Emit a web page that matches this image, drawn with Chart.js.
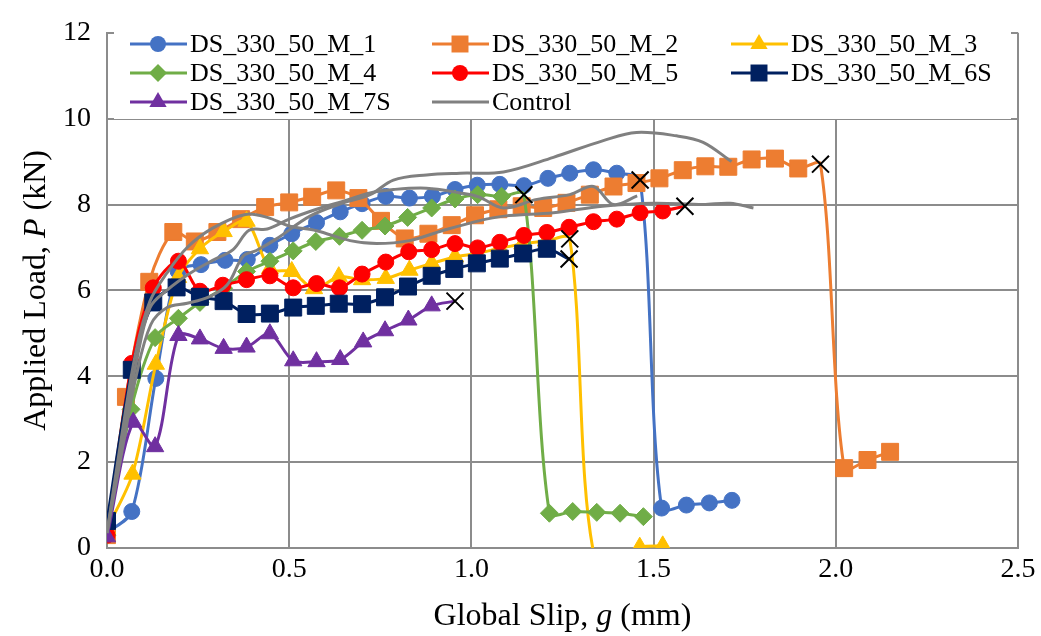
<!DOCTYPE html>
<html lang="en">
<head>
<meta charset="UTF-8">
<title>Applied Load vs Global Slip</title>
<script src="https://cdn.jsdelivr.net/npm/chart.js"></script>
<style>
  html, body { margin: 0; padding: 0; background: #fff; }
</style>
</head>
<body>
<canvas id="slipChart" width="1041" height="636"></canvas>
<script>
// values: slip g (mm), load P (kN)
const slipM1 = [0, 0.068, 0.134, 0.195, 0.258, 0.324, 0.385, 0.447, 0.507, 0.575, 0.64, 0.70, 0.765, 0.83, 0.893, 0.955, 1.016, 1.078, 1.144, 1.21, 1.27, 1.335, 1.399, 1.463, 1.522, 1.59, 1.653, 1.715];
const loadM1 = [0.35, 0.85, 3.95, 6.45, 6.6, 6.7, 6.72, 7.05, 7.32, 7.58, 7.83, 8.02, 8.19, 8.15, 8.19, 8.35, 8.45, 8.47, 8.44, 8.61, 8.73, 8.81, 8.73, 8.57, 0.93, 1.0, 1.05, 1.11];

const slipM2 = [0, 0.052, 0.116, 0.182, 0.241, 0.303, 0.368, 0.434, 0.50, 0.563, 0.629, 0.69, 0.752, 0.817, 0.882, 0.946, 1.01, 1.074, 1.138, 1.197, 1.261, 1.325, 1.39, 1.453, 1.516, 1.58, 1.642, 1.705, 1.769, 1.833, 1.897, 1.958, 2.023, 2.087, 2.149];
const loadM2 = [0.3, 3.52, 6.2, 7.36, 7.14, 7.36, 7.66, 7.94, 8.05, 8.18, 8.33, 8.15, 7.62, 7.21, 7.32, 7.52, 7.75, 7.89, 7.96, 7.92, 8.04, 8.23, 8.42, 8.5, 8.61, 8.8, 8.89, 8.88, 9.05, 9.07, 8.84, 8.94, 1.86, 2.05, 2.24];

const slipM3 = [0, 0.07, 0.134, 0.195, 0.255, 0.32, 0.383, 0.447, 0.507, 0.568, 0.636, 0.70, 0.765, 0.83, 0.891, 0.955, 1.015, 1.078, 1.14, 1.205, 1.27, 1.34, 1.462, 1.525];
const loadM3 = [0.45, 1.72, 4.28, 6.3, 6.97, 7.37, 7.61, 6.5, 6.44, 6.04, 6.32, 6.25, 6.28, 6.47, 6.63, 6.78, 6.86, 6.98, 7.08, 7.15, 7.2, -0.3, 0.02, 0.05];

const slipM4 = [0, 0.066, 0.132, 0.196, 0.255, 0.32, 0.383, 0.447, 0.511, 0.573, 0.638, 0.70, 0.763, 0.825, 0.891, 0.955, 1.017, 1.083, 1.144, 1.214, 1.278, 1.344, 1.408, 1.472];
const loadM4 = [0.3, 3.23, 4.9, 5.35, 5.72, 6.05, 6.44, 6.68, 6.92, 7.14, 7.26, 7.4, 7.5, 7.7, 7.92, 8.13, 8.23, 8.19, 8.23, 0.81, 0.85, 0.83, 0.81, 0.73];

const slipM5 = [0, 0.068, 0.127, 0.196, 0.255, 0.318, 0.383, 0.447, 0.511, 0.575, 0.638, 0.70, 0.765, 0.828, 0.891, 0.955, 1.017, 1.078, 1.144, 1.207, 1.268, 1.335, 1.399, 1.463, 1.525, 1.586];
const loadM5 = [0.3, 4.3, 6.06, 6.68, 5.98, 6.12, 6.25, 6.34, 6.06, 6.16, 6.06, 6.38, 6.66, 6.9, 6.95, 7.09, 6.99, 7.12, 7.28, 7.35, 7.47, 7.6, 7.66, 7.81, 7.85, 7.96];

const slipM6S = [0, 0.068, 0.127, 0.191, 0.255, 0.32, 0.383, 0.447, 0.511, 0.573, 0.636, 0.70, 0.763, 0.826, 0.891, 0.953, 1.015, 1.078, 1.142, 1.207, 1.268];
const loadM6S = [0.63, 4.15, 5.72, 6.07, 5.85, 5.75, 5.45, 5.46, 5.6, 5.64, 5.69, 5.68, 5.84, 6.09, 6.34, 6.5, 6.63, 6.74, 6.86, 6.97, 6.73];

const slipM7S = [0, 0.072, 0.132, 0.196, 0.255, 0.32, 0.383, 0.447, 0.511, 0.575, 0.64, 0.703, 0.763, 0.827, 0.891, 0.955];
const loadM7S = [0.26, 2.93, 2.36, 4.95, 4.87, 4.65, 4.68, 4.99, 4.36, 4.34, 4.39, 4.8, 5.06, 5.31, 5.64, 5.75];

// three control specimens, drawn as plain lines
const ctrlSlipA = [0, 0.04, 0.08, 0.118, 0.164, 0.22, 0.29, 0.38, 0.44, 0.50, 0.575, 0.667, 0.74, 0.83, 0.92, 1.02, 1.09, 1.225, 1.36, 1.50, 1.636, 1.71, 1.774];
const ctrlLoadA = [0.35, 2.6, 4.6, 5.75, 6.4, 7.0, 7.45, 7.77, 7.7, 7.5, 7.39, 7.16, 7.09, 7.16, 7.39, 7.62, 7.73, 7.81, 7.96, 8.03, 8.0, 8.03, 7.92];
const ctrlSlipB = [0, 0.04, 0.08, 0.12, 0.165, 0.22, 0.28, 0.33, 0.374, 0.41, 0.465, 0.557, 0.649, 0.722, 0.786, 0.877, 0.969, 1.088, 1.225, 1.362, 1.453, 1.563, 1.636, 1.714];
const ctrlLoadB = [0.35, 2.2, 4.0, 5.2, 5.6, 5.7, 5.85, 6.13, 6.8, 6.93, 7.2, 7.73, 8.04, 8.23, 8.57, 8.69, 8.73, 8.76, 9.1, 9.49, 9.68, 9.6, 9.45, 9.0];
const ctrlSlipC = [0, 0.04, 0.08, 0.118, 0.164, 0.228, 0.29, 0.346, 0.39, 0.44, 0.50, 0.575, 0.649, 0.722, 0.786, 0.877, 0.969, 1.02, 1.088, 1.18, 1.27, 1.335, 1.39, 1.455];
const ctrlLoadC = [0.35, 2.4, 4.3, 5.6, 6.0, 6.4, 6.7, 6.95, 7.4, 7.43, 7.66, 7.89, 8.08, 8.27, 8.35, 8.38, 8.27, 8.18, 7.92, 8.12, 8.23, 8.42, 8.0, 8.2];

// failure points (x marks), one per specimen M_1 .. M_7S
const failSlip = [1.463, 1.958, 1.27, 1.144, 1.586, 1.268, 0.955];
const failLoad = [8.57, 8.94, 7.2, 8.23, 7.96, 6.73, 5.75];

const seriesNames = ['DS_330_50_M_1', 'DS_330_50_M_2', 'DS_330_50_M_3', 'DS_330_50_M_4', 'DS_330_50_M_5', 'DS_330_50_M_6S', 'DS_330_50_M_7S'];
const seriesSlip = [slipM1, slipM2, slipM3, slipM4, slipM5, slipM6S, slipM7S];
const seriesLoad = [loadM1, loadM2, loadM3, loadM4, loadM5, loadM6S, loadM7S];
const seriesColors = ['#4472C4', '#ED7D31', '#FFC000', '#70AD47', '#FF0000', '#002060', '#7030A0'];
const seriesMarks = ['circle', 'rect', 'triangle', 'rectRot', 'circle', 'rect', 'triangle'];
const markSizes = {circle: 8, rect: 12, triangle: 10, rectRot: 9};
const ctrlColor = '#808080';
const gridColor = '#8c8c8c';
const serif = '"Liberation Serif", "Times New Roman", serif';

function pairs(xs, ys) {
    return xs.map((x, i) => ({x: x, y: ys[i]}));
}

var datasets = [];
datasets.push({
    label: 'Failure',
    type: 'scatter',
    data: pairs(failSlip, failLoad),
    pointStyle: 'crossRot',
    pointRadius: 12,
    pointBorderWidth: 2,
    borderColor: '#000',
    backgroundColor: '#000',
    order: 0
});
[[ctrlSlipA, ctrlLoadA], [ctrlSlipB, ctrlLoadB], [ctrlSlipC, ctrlLoadC]].forEach(function (c, i) {
    datasets.push({
        label: 'Control',
        data: pairs(c[0], c[1]),
        borderColor: ctrlColor,
        borderWidth: 3,
        pointRadius: 0,
        tension: 0.35,
        order: 1 + i
    });
});
seriesNames.forEach(function (name, k) {
    var r = markSizes[seriesMarks[k]];
    datasets.push({
        label: name,
        data: pairs(seriesSlip[k], seriesLoad[k]),
        borderColor: seriesColors[k],
        backgroundColor: seriesColors[k],
        borderWidth: 3,
        pointStyle: seriesMarks[k],
        // no marker on the failure point or on the dip below zero
        pointRadius: c => (c.raw && (c.raw.x === failSlip[k] || c.raw.y < 0)) ? 0 : r,
        pointBorderWidth: 1,
        tension: 0.3,
        order: 10 - k
    });
});

function drawMark(ctx, style, x, y, r, color) {
    ctx.fillStyle = color;
    ctx.beginPath();
    if (style === 'circle') {
        ctx.arc(x, y, r, 0, Math.PI * 2);
    } else if (style === 'rect') {
        var s = r * Math.SQRT1_2;
        ctx.rect(x - s, y - s, 2 * s, 2 * s);
    } else if (style === 'triangle') {
        ctx.moveTo(x, y - r);
        ctx.lineTo(x + r * 0.866, y + r / 2);
        ctx.lineTo(x - r * 0.866, y + r / 2);
        ctx.closePath();
    } else if (style === 'rectRot') {
        ctx.moveTo(x, y - r);
        ctx.lineTo(x + r, y);
        ctx.lineTo(x, y + r);
        ctx.lineTo(x - r, y);
        ctx.closePath();
    }
    ctx.fill();
}

// legend sits inside the plot on a white box, three columns
const legendPlugin = {
    id: 'boxLegend',
    beforeDatasetsDraw(chart) {
        var ctx = chart.ctx;
        ctx.save();
        ctx.fillStyle = '#fff';
        ctx.fillRect(114, 26, 897, 93);
        var cols = [130, 432, 731];
        var rows = [44, 73, 102];
        var items = seriesNames.map((n, k) => ({name: n, color: seriesColors[k], mark: seriesMarks[k]}));
        items.push({name: 'Control', color: ctrlColor, mark: null});
        ctx.font = '26px ' + serif;
        ctx.textBaseline = 'middle';
        items.forEach(function (it, i) {
            var x = cols[i % 3], y = rows[Math.floor(i / 3)];
            ctx.strokeStyle = it.color;
            ctx.lineWidth = 3;
            ctx.beginPath();
            ctx.moveTo(x, y);
            ctx.lineTo(x + 57, y);
            ctx.stroke();
            if (it.mark) drawMark(ctx, it.mark, x + 28, y, markSizes[it.mark], it.color);
            ctx.fillStyle = '#000';
            ctx.fillText(it.name, x + 60, y + 1);
        });
        ctx.restore();
    }
};

function drawRich(ctx, parts, x, y) {
    var total = 0;
    parts.forEach(function (p) {
        ctx.font = (p[1] ? 'italic ' : '') + '32px ' + serif;
        total += ctx.measureText(p[0]).width;
    });
    var cx = x - total / 2;
    parts.forEach(function (p) {
        ctx.font = (p[1] ? 'italic ' : '') + '32px ' + serif;
        ctx.fillText(p[0], cx, y);
        cx += ctx.measureText(p[0]).width;
    });
}

// axis titles with the italic symbols
const titlePlugin = {
    id: 'axisTitles',
    afterDraw(chart) {
        var ctx = chart.ctx;
        var area = chart.chartArea;
        ctx.save();
        ctx.fillStyle = '#000';
        ctx.textBaseline = 'alphabetic';
        drawRich(ctx, [['Global Slip, ', false], ['g', true], [' (mm)', false]], (area.left + area.right) / 2, 625);
        ctx.translate(45, (area.top + area.bottom) / 2);
        ctx.rotate(-Math.PI / 2);
        drawRich(ctx, [['Applied Load, ', false], ['P', true], [' (kN)', false]], 0, 0);
        ctx.restore();
    }
};

function buildChart() {
    new Chart(document.getElementById('slipChart').getContext('2d'), {
        type: 'line',
        data: {datasets: datasets},
        plugins: [legendPlugin, titlePlugin],
        options: {
            responsive: false,
            animation: false,
            layout: {padding: {top: 23, right: 23, left: 0, bottom: 0}},
            plugins: {legend: {display: false}, tooltip: {enabled: false}},
            scales: {
                x: {
                    type: 'linear',
                    min: 0,
                    max: 2.5,
                    afterFit: s => { s.height = 88; },
                    ticks: {
                        stepSize: 0.5,
                        callback: v => v.toFixed(1),
                        color: '#000',
                        padding: 5,
                        font: {family: serif, size: 28}
                    },
                    grid: {color: gridColor, lineWidth: 2, drawTicks: false},
                    border: {color: gridColor, width: 2}
                },
                y: {
                    type: 'linear',
                    min: 0,
                    max: 12,
                    afterFit: s => { s.width = 107; },
                    ticks: {
                        stepSize: 2,
                        color: '#000',
                        padding: 16,
                        font: {family: serif, size: 28}
                    },
                    grid: {color: gridColor, lineWidth: 2, drawTicks: false},
                    border: {color: gridColor, width: 2}
                }
            }
        }
    });
}

// make sure the serif face is ready before the first draw
Promise.all([
    document.fonts.load('26px "Liberation Serif"'),
    document.fonts.load('italic 32px "Liberation Serif"')
]).then(buildChart, buildChart);
</script>
</body>
</html>
